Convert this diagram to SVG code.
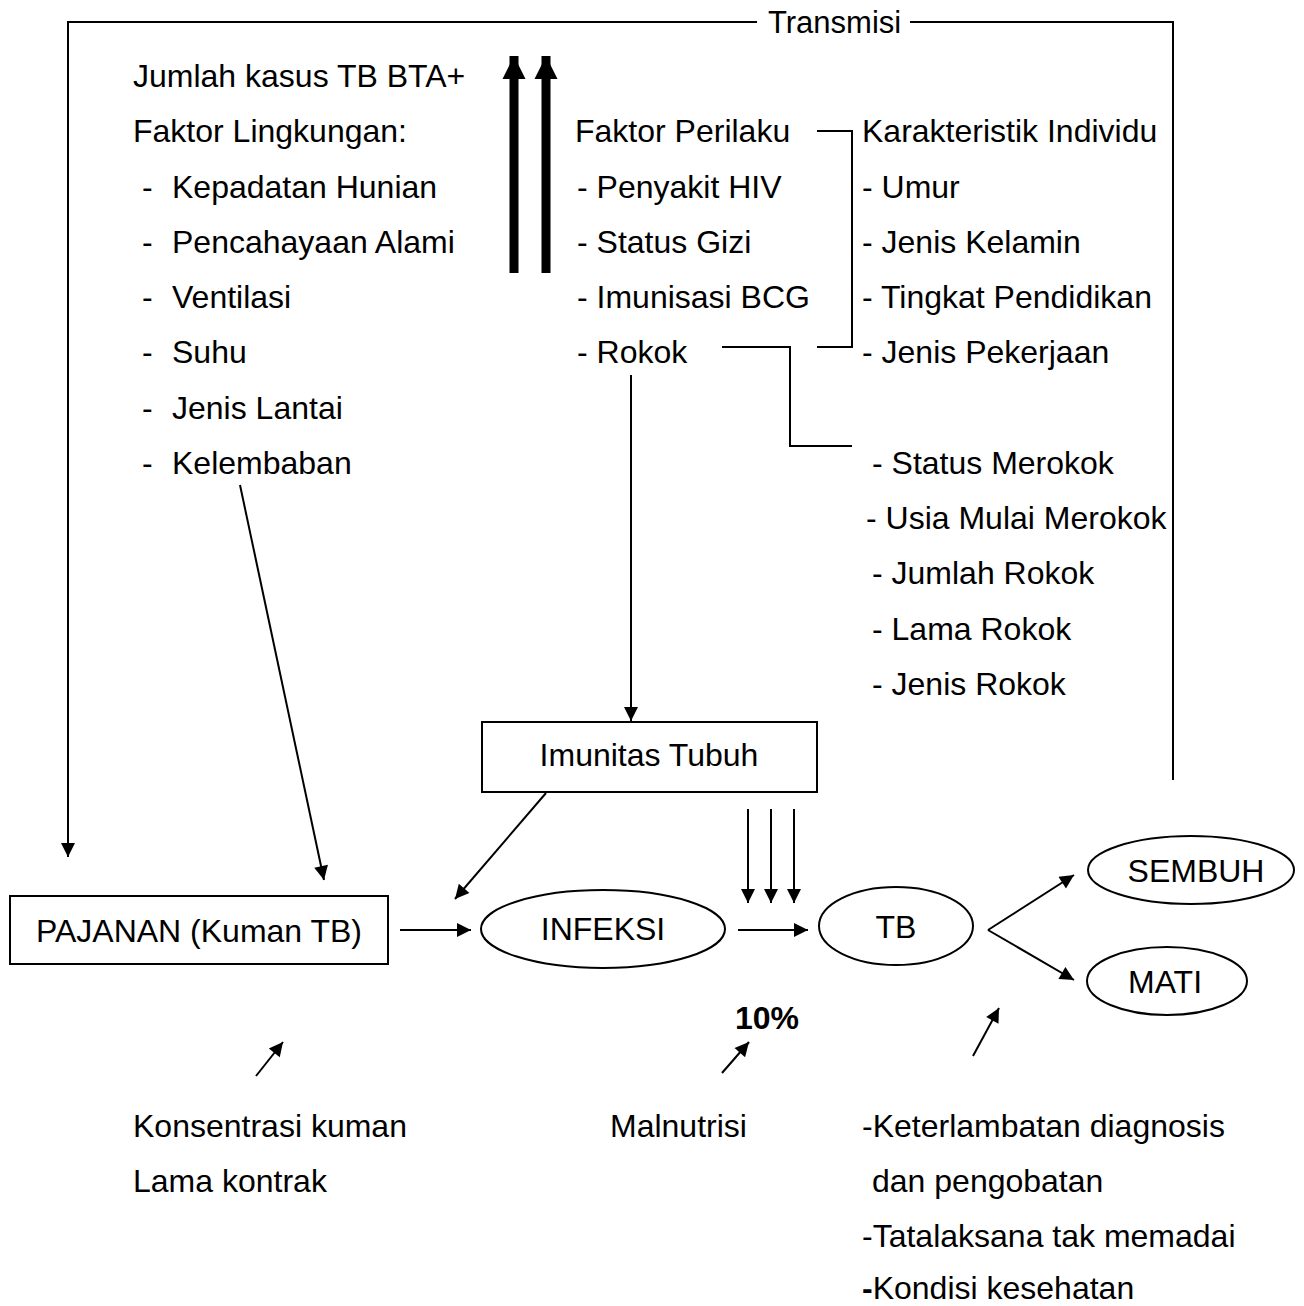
<svg xmlns="http://www.w3.org/2000/svg" width="1304" height="1306" viewBox="0 0 1304 1306">
<style>
text{font-family:"Liberation Sans",Arial,sans-serif;font-size:32px;fill:#000}
.c{text-anchor:middle}
.ln{fill:none;stroke:#000;stroke-width:2}
.th{fill:none;stroke:#000;stroke-width:9}
.sh{fill:#fff;stroke:#000;stroke-width:2}
</style>
<defs>
<marker id="ah2" viewBox="0 0 10 10" refX="10" refY="5" markerWidth="16" markerHeight="14" markerUnits="userSpaceOnUse" orient="auto"><path d="M0,0L10,5L0,10z" fill="#000"/></marker>
<marker id="ahb" viewBox="0 0 10 10" refX="10" refY="5" markerWidth="2.6" markerHeight="2.8" orient="auto"><path d="M0,0L10,5L0,10z" fill="#000"/></marker>
</defs>
<rect width="1304" height="1306" fill="#fff"/>

<g id="connectors">
<path class="ln" d="M757,22H68V857" marker-end="url(#ah2)"/>
<path class="ln" d="M910,22H1173V780"/>
<line class="th" x1="514" y1="273" x2="514" y2="56" marker-end="url(#ahb)"/>
<line class="th" x1="546" y1="273" x2="546" y2="56" marker-end="url(#ahb)"/>
<path class="ln" d="M817,131H852V347H817"/>
<path class="ln" d="M722,347H790V446H852"/>
<line class="ln" x1="631" y1="375" x2="631" y2="721" marker-end="url(#ah2)"/>
<line class="ln" x1="240" y1="485" x2="324" y2="880" marker-end="url(#ah2)"/>
<line class="ln" x1="546" y1="793" x2="455" y2="899" marker-end="url(#ah2)"/>
<line class="ln" x1="748" y1="809" x2="748" y2="903" marker-end="url(#ah2)"/>
<line class="ln" x1="771" y1="809" x2="771" y2="903" marker-end="url(#ah2)"/>
<line class="ln" x1="794" y1="809" x2="794" y2="903" marker-end="url(#ah2)"/>
<line class="ln" x1="400" y1="930" x2="471" y2="930" marker-end="url(#ah2)"/>
<line class="ln" x1="738" y1="930" x2="808" y2="930" marker-end="url(#ah2)"/>
<line class="ln" x1="988" y1="930" x2="1074" y2="875" marker-end="url(#ah2)"/>
<line class="ln" x1="988" y1="930" x2="1074" y2="980" marker-end="url(#ah2)"/>
<line class="ln" x1="256" y1="1076" x2="283" y2="1042" marker-end="url(#ah2)"/>
<line class="ln" x1="722" y1="1073" x2="749" y2="1042" marker-end="url(#ah2)"/>
<line class="ln" x1="973" y1="1056" x2="999" y2="1008" marker-end="url(#ah2)"/>
</g>

<g id="transmisi"><text x="768" y="33" style="font-size:31px">Transmisi</text></g>

<g id="lingkungan">
<text x="133" y="87">Jumlah kasus TB BTA+</text>
<text x="133" y="142">Faktor Lingkungan:</text>
<text x="142" y="198">-</text><text x="172" y="198">Kepadatan Hunian</text>
<text x="142" y="253">-</text><text x="172" y="253">Pencahayaan Alami</text>
<text x="142" y="308">-</text><text x="172" y="308">Ventilasi</text>
<text x="142" y="363">-</text><text x="172" y="363">Suhu</text>
<text x="142" y="419">-</text><text x="172" y="419">Jenis Lantai</text>
<text x="142" y="474">-</text><text x="172" y="474">Kelembaban</text>
</g>

<g id="perilaku">
<text x="575" y="142">Faktor Perilaku</text>
<text x="577" y="198">- Penyakit HIV</text>
<text x="577" y="253">- Status Gizi</text>
<text x="577" y="308">- Imunisasi BCG</text>
<text x="577" y="363">- Rokok</text>
</g>

<g id="individu">
<text x="862" y="142">Karakteristik Individu</text>
<text x="862" y="198">- Umur</text>
<text x="862" y="253">- Jenis Kelamin</text>
<text x="862" y="308">- Tingkat Pendidikan</text>
<text x="862" y="363">- Jenis Pekerjaan</text>
</g>

<g id="rokok">
<text x="872" y="474">- Status Merokok</text>
<text x="866" y="529">- Usia Mulai Merokok</text>
<text x="872" y="584">- Jumlah Rokok</text>
<text x="872" y="640">- Lama Rokok</text>
<text x="872" y="695">- Jenis Rokok</text>
</g>

<g id="imunitas">
<rect class="sh" x="482" y="722" width="335" height="70"/>
<text class="c" x="649" y="766">Imunitas Tubuh</text>
</g>

<g id="pajanan">
<rect class="sh" x="10" y="896" width="378" height="68"/>
<text class="c" x="199" y="942">PAJANAN (Kuman TB)</text>
</g>

<g id="infeksi">
<ellipse class="sh" cx="603" cy="929" rx="122" ry="39"/>
<text class="c" x="603" y="940">INFEKSI</text>
</g>

<g id="tb">
<ellipse class="sh" cx="896" cy="926" rx="77" ry="39"/>
<text class="c" x="896" y="938">TB</text>
</g>

<g id="sembuh">
<ellipse class="sh" cx="1191" cy="870" rx="103" ry="34"/>
<text class="c" x="1196" y="882">SEMBUH</text>
</g>

<g id="mati">
<ellipse class="sh" cx="1167" cy="981" rx="80" ry="34"/>
<text class="c" x="1165" y="993">MATI</text>
</g>

<g id="persen"><text class="c" x="767" y="1029" style="font-weight:bold">10%</text></g>

<g id="kuman">
<text x="133" y="1137">Konsentrasi kuman</text>
<text x="133" y="1192">Lama kontrak</text>
</g>

<g id="malnutrisi"><text x="610" y="1137">Malnutrisi</text></g>

<g id="pengobatan">
<text x="862" y="1137">-Keterlambatan diagnosis</text>
<text x="872" y="1192">dan pengobatan</text>
<text x="862" y="1247">-Tatalaksana tak memadai</text>
<text x="862" y="1299"><tspan style="font-weight:bold">-</tspan>Kondisi kesehatan</text>
</g>
</svg>
